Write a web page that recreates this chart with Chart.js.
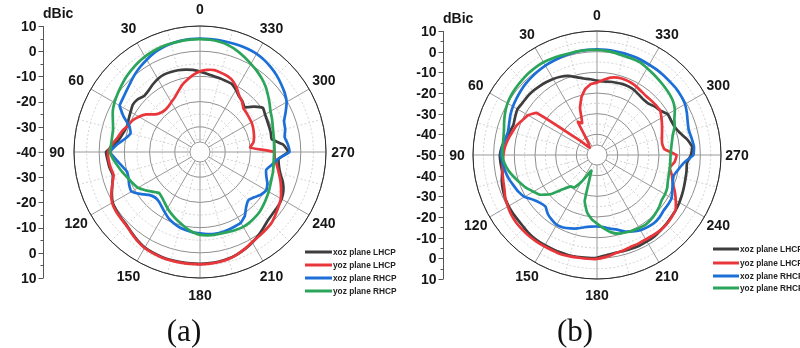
<!DOCTYPE html>
<html><head><meta charset="utf-8">
<script src="https://cdn.jsdelivr.net/npm/chart.js@4.4.1/dist/chart.umd.min.js"></script>
<style>
html,body{margin:0;padding:0;background:#fff;width:800px;height:348px;overflow:hidden;}
#wrap{position:relative;width:800px;height:348px;}
canvas{position:absolute;top:0;}
#ca{left:0}
#cb{left:400px}
</style></head><body>
<div id="wrap">
<canvas id="ca" width="400" height="348"></canvas>
<canvas id="cb" width="400" height="348"></canvas>
</div>
<script>
// ---------- data (angle in degrees, counter-clockwise from top) ----------
const ANGLES = [0,5,10,15,20,25,30,35,40,45,50,55,60,65,70,75,80,85,90,95,100,105,110,115,
  120,125,130,135,140,145,150,155,160,165,170,175,180,185,190,195,200,205,210,215,220,225,230,235,
  240,245,250,255,260,265,270,275,280,285,290,295,300,305,310,315,320,325,330,335,340,345,350,355];
const ANGLE_TICKS = [0,30,60,90,120,150,180,210,240,270,300,330];
const SERIES_NAMES = ['xoz plane LHCP','yoz plane LHCP','xoz plane RHCP','yoz plane RHCP'];
const AXIS_TICKS_A = [10,0,-10,-20,-30,-40];
const AXIS_TICKS_B = [10,0,-10,-20,-30,-40,-50];

// (a)
const A_XOZ_LHCP = [-8.1,-7.3,-6.8,-6.4,-6.2,-6.1, -6.5,-7.3,-8.2,-8.6,-7.6,-7.4, -8.2,-8.8,-9.3,-8.8,-7.8,-6,
  -2.7,-3.2,-3.6,-4.2,-3,-1.4, 0,0.5,0.8,1.1,2,3, 3.8,4.1,4.3,4.4,4.4,4.4,
  4.4,4.3,4.1,3.8,3.2,2.4, 1.5,0.4,-0.8,-1.8,-2.2,-2.3, -2.6,-3.5,-5,-7,-8.2,-8.6,
  -5,-6.8,-11.1,-10.9,-10.8,-10.6, -10.2,-9.5,-12,-14.9,-13.8,-13, -11.5,-10.2,-10,-9.7,-9.4,-8.8];
const A_YOZ_LHCP = [-8,-9.3,-10.9,-12.5,-14.5,-16.2, -17.2,-18,-18.3,-18,-16.8,-14, -12,-10.4,-9.5,-8,-6.8,-5,
  -3.5,-3.6,-4,-4.5,-3,-1.2, 0.3,0.8,1,1.3,2.2,3.2, 4,4.3,4.5,4.6,4.6,4.6,
  4.6,4.5,4.3,4,3.2,2.3, 1.3,0.8,0.4,0,-1,-2, -3,-4.5,-6,-7.6,-9,-10.2,
  -10.6,-20,-18.5,-17.8,-17.3,-16.8, -16.4,-16.2,-15.9,-15.6,-14,-12.8, -10.8,-9,-8,-7.5,-7,-7.3];
const A_XOZ_RHCP = [5,5,4.8,4.5,4,3.3, 2.3,1.3,0.2,-1,-2,-2.7, -3.2,-6.5,-10.2,-11.5,-9.8,-6.8,
  -4.3,-6.5,-8.5,-10,-9.8,-9, -8.6,-11,-13.5,-14.6,-14.5,-13.5, -12.2,-10.8,-9.8,-9,-8.5,-8,
  -7.7,-7.3,-7,-7,-7.2,-7.4, -7.6,-9,-11.5,-12.9,-12,-10.5, -9.6,-10.5,-12,-12.8,-11,-8.9,
  -4.5,-5,-5.9,-5,-4.5,-2.5, -0.3,1,2,3,3.8,4.5, 5,5.1,5.1,5,5,5];
const A_YOZ_RHCP = [4.8,4.8,4.7,4.6,4.4,4.1, 3.7,3.1,2.4,1.7,0.8,0, -0.8,-1.8,-3.2,-4.3,-4.6,-4.6,
  -4.3,-5.5,-7,-8.3,-9.6,-10.6, -11.6,-13.5,-15.5,-17,-16.5,-15.5, -14.2,-13,-11.8,-10.6,-9.2,-8,
  -7.1,-6.8,-6.6,-6.6,-6.3,-6, -5.7,-5.8,-6.1,-6.5,-7.2,-7.9, -8.5,-9.2,-9.7,-10,-10.4,-10.6,
  -10.6,-10.5,-10.2,-9.9,-9.3,-8.5, -7.7,-6.3,-4.8,-3.2,-1.9,-0.7, 0.4,1.6,2.8,3.8,4.4,4.7];

// (b)
const B_XOZ_LHCP = [-14,-13.2,-12.4,-11,-9.3,-8.2, -7.5,-7,-6.6,-6.2,-6,-6, -5.6,-6.3,-7,-6.3,-5,-3.8,
  -3,-3.2,-3.4,-2.3,-1.5,-0.9, -0.6,-0.5,-0.5,-0.2,0.3,0.5, 0.4,0.4,0.4,0.5,0.2,0,
  -0.3,-1.2,-1.8,-1.8,-1.7,-1.6, -1.7,-1.8,-2.3,-2.7,-3.2,-3.5, -4,-4.6,-5.2,-5.7,-6,-6.3,
  -4.5,-3.8,-5.8,-8.5,-10,-10.5, -10.5,-12.5,-13.5,-14.8,-15,-14.5, -13.8,-13.5,-13.5,-13.8,-14,-14.3];
const B_YOZ_LHCP = [-15,-15.6,-17.5,-21,-26,-33, -31.5,-42.6,-44,-45,-39,-14.5, -11.5,-10.2,-8.5,-7.5,-6.3,-5.3,
  -4.7,-4.2,-3.6,-3,-2.3,-1, -0.2,0.6,1,1.1,1.2,1.1, 1,1,1.1,0.8,0.5,0.4,
  0.3,-0.5,-1.5,-2,-2.6,-2.7, -2.8,-2.6,-2.4,-2.5,-3,-3.6, -6,-8.5,-11,-12.5,-14.2,-12.3,
  -11.5,-17.3,-18,-17.5,-16.5,-15.3, -14,-12.7,-12.7,-12.8,-12.9,-12.5, -11.8,-11.3,-11.1,-11.2,-12,-13.5];
const B_XOZ_RHCP = [1.1,1.1,1,0.7,0.5,0.2, 0,-0.4,-0.8,-1.2,-1.8,-2.4, -3,-3.8,-4.8,-5.5,-5,-4,
  -3.5,-4.3,-4.9,-5.8,-7,-8, -9.5,-12.3,-14,-14.7,-12.9,-11.8, -11,-11.3,-12.2,-13.2,-14.5,-15.2,
  -15.4,-15,-13.8,-12.6,-10.6,-9.2, -8,-7.4,-7,-7.3,-8,-8.1, -8.3,-9.8,-11,-11.6,-10,-7.7,
  -3.4,-2.9,-3.5,-4,-3.3,-2, -0.8,-0.3,0,0,0.2,0.4, 0.5,0.7,0.8,0.9,1,1.1];
const B_YOZ_RHCP = [0.8,1,1,1,1.2,1.5, 1.8,1.8,1.6,1.3,1,0.6, 0,-1,-2.2,-3.4,-4,-4.2,
  -4.2,-5,-6.5,-8.5,-10.5,-12.3, -14.5,-16.5,-20.5,-26.5,-30.2,-30.8, -35,-39.5,-42,-27,-22,-19,
  -16.8,-14.5,-12.1,-10.6,-10.1,-9.6, -9.2,-8.9,-9.3,-10,-10.8,-11.8, -12,-12.5,-13.5,-14,-14.2,-14.4,
  -14.4,-14,-13.2,-12,-10,-8.7, -6.5,-5,-4.2,-3.6,-3,-2.3, -1.5,-0.6,-0.4,-0.3,0.2,0.6];

const COLORS = ['#3d3d3d','#e8363b','#1b6fd6','#2ba55a'];

// ---------- helpers ----------
const N = ANGLES.length;
// Chart.js radar runs clockwise from the top; the plots run counter-clockwise.
const ccwIndex = i => (N - i) % N;
const radarLabels = ANGLES.map((_, i) => ANGLES[ccwIndex(i)]);
const toRadar = s => s.map((_, i) => s[ccwIndex(i)]);

function makeExtras(cfg) {
  return {
    id: 'polarExtras',
    beforeDatasetsDraw(chart) {
      const s = chart.scales.r, ctx = chart.ctx;
      ctx.save();
      ctx.beginPath();
      ctx.arc(s.xCenter, s.yCenter, cfg.hole, 0, Math.PI * 2);
      ctx.fillStyle = '#ffffff';
      ctx.fill();
      ctx.strokeStyle = '#9a9a9a';
      ctx.lineWidth = 1;
      ctx.stroke();
      // outer ring
      ctx.beginPath();
      ctx.arc(s.xCenter, s.yCenter, s.drawingArea, 0, Math.PI * 2);
      ctx.strokeStyle = '#2a2a2a';
      ctx.stroke();
      ctx.restore();
    },
    afterDraw(chart) {
      const s = chart.scales.r, ctx = chart.ctx;
      const cx = s.xCenter, cy = s.yCenter, R = s.drawingArea;
      const ax = cfg.axisX + 0.5;
      ctx.save();
      // left radial axis
      ctx.strokeStyle = '#555';
      ctx.lineWidth = 1;
      ctx.beginPath();
      ctx.moveTo(ax, cy - R);
      ctx.lineTo(ax, cy + R);
      ctx.stroke();
      ctx.font = 'bold 14px "Liberation Sans", Arial, sans-serif';
      ctx.fillStyle = '#161616';
      ctx.textAlign = 'right';
      ctx.textBaseline = 'middle';
      cfg.axisTicks.forEach(v => {
        const d = s.getDistanceFromCenterForValue(v);
        const ys = d < 0.5 ? [cy] : [cy - d, cy + d];
        ys.forEach(y => {
          const yy = Math.round(y) + 0.5;
          ctx.beginPath(); ctx.moveTo(ax - 5, yy); ctx.lineTo(ax, yy); ctx.stroke();
          ctx.fillText(String(v), ax - 7, y + 1);
        });
        const dm = s.getDistanceFromCenterForValue(v - 5);
        if (v - 5 >= s.min) {
          [cy - dm, cy + dm].forEach(y => {
            const yy = Math.round(y) + 0.5;
            ctx.beginPath(); ctx.moveTo(ax - 3, yy); ctx.lineTo(ax, yy); ctx.stroke();
          });
        }
      });
      ctx.textAlign = 'left';
      ctx.fillText('dBic', ax - 0.5, cy - R - 12);
      // angle labels
      ctx.textAlign = 'center';
      cfg.angleTicks.forEach(a => {
        const idx = ANGLES.indexOf(a);
        const p = s.getPointPosition(ccwIndex(idx), R + cfg.labelGap);
        ctx.fillText(String(a), p.x, p.y + 1);
      });
      // legend
      ctx.font = 'bold 8.3px "Liberation Sans", Arial, sans-serif';
      ctx.textAlign = 'left';
      chart.data.datasets.forEach((ds, i) => {
        const y = cfg.legendRows[i];
        ctx.strokeStyle = ds.borderColor;
        ctx.lineWidth = 3;
        ctx.beginPath();
        ctx.moveTo(cfg.legendX, y);
        ctx.lineTo(cfg.legendX + cfg.legendLen, y);
        ctx.stroke();
        ctx.fillStyle = '#222';
        ctx.fillText(ds.label, cfg.legendX + cfg.legendLen + 1, y + 0.5);
      });
      // caption
      ctx.font = '31px "Liberation Serif", "Times New Roman", serif';
      ctx.fillStyle = '#111';
      ctx.textAlign = 'center';
      ctx.textBaseline = 'alphabetic';
      ctx.fillText(cfg.caption, cfg.captionX, cfg.captionY);
      ctx.restore();
    }
  };
}

function makeChart(canvasId, series, min, max, padding, cfg) {
  const datasets = series.map((s, i) => ({
    label: SERIES_NAMES[i],
    data: toRadar(s),
    borderColor: COLORS[i],
    backgroundColor: COLORS[i],
    borderWidth: 2.7,
    pointRadius: 0,
    pointHoverRadius: 0,
    fill: false,
    order: 4 - i
  }));
  return new Chart(document.getElementById(canvasId), {
    type: 'radar',
    data: { labels: radarLabels, datasets },
    options: {
      responsive: false,
      animation: false,
      devicePixelRatio: 1,
      layout: { padding },
      elements: { line: { tension: 0.12 } },
      plugins: { legend: { display: false }, tooltip: { enabled: false } },
      scales: {
        r: {
          min, max,
          startAngle: 0,
          ticks: { display: false, stepSize: 5 },
          pointLabels: { display: false },
          grid: {
            circular: true,
            lineWidth: 1,
            color: c => (c.tick && c.tick.value % 10 === 0) ? '#8e8e8e' : '#d2d2d2'
          },
          border: {
            dash: c => (c.tick && c.tick.value % 10 !== 0) ? [2, 2] : []
          },
          angleLines: {
            display: true,
            color: c => c.index % 6 === 0 ? '#9a9a9a' : '#d4d4d4',
            lineWidth: c => c.index % 3 === 0 ? 1 : 0,
            borderDash: c => c.index % 6 === 0 ? [] : [2, 2]
          }
        }
      }
    },
    plugins: [makeExtras(cfg)]
  });
}

makeChart('ca', [A_XOZ_LHCP, A_YOZ_LHCP, A_XOZ_RHCP, A_YOZ_RHCP], -40, 10,
  { left: 74, right: 74, top: 26, bottom: 70 },
  { axisX: 43, axisTicks: AXIS_TICKS_A, angleTicks: ANGLE_TICKS, labelGap: 17, hole: 10,
    legendX: 305, legendLen: 27, legendRows: [252, 265, 278, 291],
    caption: '(a)', captionX: 184, captionY: 341 });

makeChart('cb', [B_XOZ_LHCP, B_YOZ_LHCP, B_XOZ_RHCP, B_YOZ_RHCP], -50, 10,
  { left: 73, right: 79, top: 31, bottom: 69 },
  { axisX: 43, axisTicks: AXIS_TICKS_B, angleTicks: ANGLE_TICKS, labelGap: 16, hole: 10,
    legendX: 313, legendLen: 26, legendRows: [249, 263, 276, 288],
    caption: '(b)', captionX: 175, captionY: 341 });
</script>
</body></html>
